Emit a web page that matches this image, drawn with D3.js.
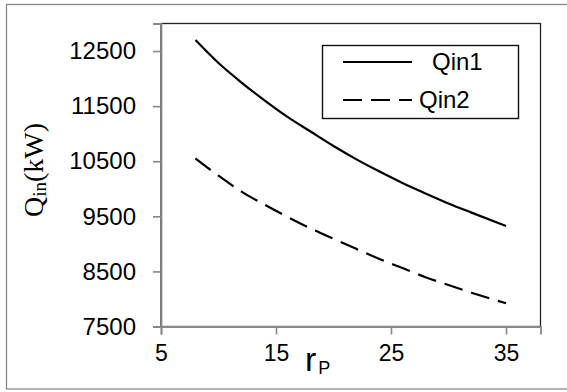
<!DOCTYPE html>
<html>
<head>
<meta charset="utf-8">
<script src="https://cdn.jsdelivr.net/npm/d3@7"></script>
<style>
  html, body { margin: 0; padding: 0; background: #fff; }
  svg { display: block; }
</style>
</head>
<body>
<svg id="chart" width="567" height="392"></svg>
<script>
// ---- data ----
const rp = [8, 10, 12, 14, 16, 18, 20, 22, 24, 26, 28, 30, 32, 35];
const qin1 = [12700, 12282, 11928, 11604, 11304, 11039, 10776, 10534, 10312, 10106, 9916, 9733, 9567, 9324];
const qin2 = [10550, 10237, 9949, 9712, 9489, 9281, 9092, 8907, 8724, 8561, 8395, 8252, 8114, 7921];
const seriesNames = ["Qin1", "Qin2"];
const xTicks = [5, 15, 25, 35];
const yTicks = [7500, 8500, 9500, 10500, 11500, 12500];

// ---- layout ----
const W = 567, H = 392;
const plot = { left: 161, right: 540.5, top: 23.5, bottom: 326.5 };
const svg = d3.select("#chart");

const x = d3.scaleLinear().domain([5, 38]).range([plot.left, plot.right]);
const y = d3.scaleLinear().domain([7500, 13000]).range([plot.bottom, plot.top]);

// outer chart border
svg.append("rect")
  .attr("x", 6.5).attr("y", 4.5)
  .attr("width", 570).attr("height", 384.5)
  .attr("fill", "#fff").attr("stroke", "#8a8a8a").attr("stroke-width", 1.3);

// plot area border
svg.append("rect")
  .attr("x", plot.left).attr("y", plot.top)
  .attr("width", plot.right - plot.left).attr("height", plot.bottom - plot.top)
  .attr("fill", "none").attr("stroke", "#222").attr("stroke-width", 1.3);

const sans = "'Liberation Sans', Arial, sans-serif";

// y axis
const yAxis = svg.append("g")
  .attr("transform", `translate(${plot.left},0)`)
  .call(d3.axisLeft(y).tickValues(yTicks).tickSize(8).tickPadding(17).tickFormat(d3.format("d")));
yAxis.select(".domain").attr("stroke", "#888").attr("stroke-width", 1.8);
yAxis.selectAll(".tick line").attr("stroke", "#888").attr("stroke-width", 1.6);
yAxis.selectAll(".tick text")
  .attr("fill", "#000").style("font-family", sans).style("font-size", "24px");

// x axis
const xAxis = svg.append("g")
  .attr("transform", `translate(0,${plot.bottom})`)
  .call(d3.axisBottom(x).tickValues(xTicks).tickSize(8).tickPadding(10).tickFormat(d3.format("d")));
xAxis.select(".domain").attr("stroke", "#888").attr("stroke-width", 1.8);
xAxis.selectAll(".tick line").attr("stroke", "#888").attr("stroke-width", 1.6);
xAxis.selectAll(".tick text")
  .attr("fill", "#000").style("font-family", sans).style("font-size", "23px");

// lines
const line = d3.line().x((d, i) => x(rp[i])).y(d => y(d)).curve(d3.curveMonotoneX);
svg.append("path").datum(qin1)
  .attr("d", line).attr("fill", "none").attr("stroke", "#000").attr("stroke-width", 2.2);
svg.append("path").datum(qin2)
  .attr("d", line).attr("fill", "none").attr("stroke", "#000").attr("stroke-width", 2.2)
  .attr("stroke-dasharray", "19,9");

// legend
const lg = svg.append("g");
lg.append("rect").attr("x", 322.5).attr("y", 45.5).attr("width", 196).attr("height", 73)
  .attr("fill", "#fff").attr("stroke", "#111").attr("stroke-width", 1.4);
lg.append("line").attr("x1", 343).attr("x2", 412).attr("y1", 62).attr("y2", 62)
  .attr("stroke", "#000").attr("stroke-width", 2.2);
lg.append("line").attr("x1", 343).attr("x2", 412).attr("y1", 100).attr("y2", 100)
  .attr("stroke", "#000").attr("stroke-width", 2.2).attr("stroke-dasharray", "19,9");
lg.append("text").attr("x", 432).attr("y", 70).text(seriesNames[0])
  .style("font-family", sans).style("font-size", "24px");
lg.append("text").attr("x", 419).attr("y", 108).text(seriesNames[1])
  .style("font-family", sans).style("font-size", "24px");

// y axis title
const yt = svg.append("text")
  .attr("transform", "translate(43,170) rotate(-90)")
  .attr("text-anchor", "middle")
  .style("font-family", "'Liberation Serif', 'Times New Roman', serif")
  .style("font-size", "28px");
yt.append("tspan").text("Q");
yt.append("tspan").attr("dy", 3).style("font-size", "19px").text("in");
yt.append("tspan").attr("dy", -3).text("(kW)");

// x axis title
const xt = svg.append("text")
  .attr("x", 305).attr("y", 371)
  .style("font-family", sans).style("font-size", "34px");
xt.append("tspan").text("r");
xt.append("tspan").attr("dy", 3).attr("dx", 2).style("font-size", "18px").text("P");
</script>
</body>
</html>
